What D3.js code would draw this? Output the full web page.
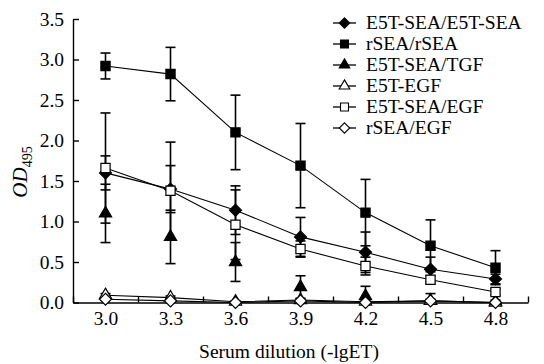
<!DOCTYPE html>
<html><head><meta charset="utf-8">
<script src="https://cdn.jsdelivr.net/npm/d3@7"></script>
<style>body{margin:0;background:#fff}svg{display:block}text{font-family:"Liberation Serif","Times New Roman",serif;fill:#000}</style>
</head><body><svg id="c" width="544" height="364"></svg>
<script>
const dilutions = [3.0, 3.3, 3.6, 3.9, 4.2, 4.5, 4.8];
const xTickLabels = ["3.0","3.3","3.6","3.9","4.2","4.5","4.8"];
const yTicks = [0, 0.5, 1.0, 1.5, 2.0, 2.5, 3.0, 3.5];
const seriesNames = ["E5T-SEA/E5T-SEA","rSEA/rSEA","E5T-SEA/TGF","E5T-EGF","E5T-SEA/EGF","rSEA/EGF"];
const e5tSeaE5tSea = [1.60, 1.40, 1.14, 0.81, 0.62, 0.41, 0.29];
const e5tSeaE5tSeaErr = [0.21, 0.29, 0.30, 0.24, 0.25, 0.15, 0.06];
const rSeaRSea = [2.92, 2.82, 2.10, 1.69, 1.11, 0.70, 0.43];
const rSeaRSeaErr = [0.16, 0.33, 0.46, 0.52, 0.41, 0.32, 0.21];
const e5tSeaTgf = [1.10, 0.81, 0.50, 0.19, 0.08, 0.02, 0.01];
const e5tSeaTgfErr = [0.36, 0.33, 0.24, 0.14, 0.12, 0.09, 0.02];
const e5tEgf = [0.09, 0.06, 0.01, 0.03, 0.01, 0.02, 0.00];
const e5tEgfErr = [0.02, 0.02, 0.01, 0.02, 0.01, 0.02, 0.01];
const e5tSeaEgf = [1.66, 1.38, 0.96, 0.66, 0.45, 0.28, 0.13];
const e5tSeaEgfErr = [0.68, 0.60, 0.43, 0.10, 0.11, 0.05, 0.04];
const rSeaEgf = [0.04, 0.02, 0.00, 0.02, 0.00, 0.02, 0.00];
const rSeaEgfErr = [0.01, 0.01, 0.01, 0.01, 0.01, 0.01, 0.01];

const squareDiamond = {draw(ctx, size) {
  const r = Math.sqrt(size / 2);
  ctx.moveTo(0, -r); ctx.lineTo(r, 0); ctx.lineTo(0, r); ctx.lineTo(-r, 0); ctx.closePath();
}};

const series = [
  {name: seriesNames[0], v: e5tSeaE5tSea, e: e5tSeaE5tSeaErr, sym: squareDiamond, size: 72, fill: "#000", line: true},
  {name: seriesNames[1], v: rSeaRSea, e: rSeaRSeaErr, sym: d3.symbolSquare, size: 85, fill: "#000", line: true},
  {name: seriesNames[2], v: e5tSeaTgf, e: e5tSeaTgfErr, sym: d3.symbolTriangle, size: 65, fill: "#000", line: false},
  {name: seriesNames[3], v: e5tEgf, e: e5tEgfErr, sym: d3.symbolTriangle, size: 65, fill: "#fff", line: true},
  {name: seriesNames[4], v: e5tSeaEgf, e: e5tSeaEgfErr, sym: d3.symbolSquare, size: 85, fill: "#fff", line: true},
  {name: seriesNames[5], v: rSeaEgf, e: rSeaEgfErr, sym: squareDiamond, size: 72, fill: "#fff", line: true}
];

const svg = d3.select("#c");
const L = 73, R = 528, T = 19, B = 302.5;
const x = d3.scaleLinear().domain([2.85, 4.95]).range([L, R]);
const y = d3.scaleLinear().domain([0, 3.5]).range([B, T]);

// axes
const yAx = svg.append("g").attr("transform", `translate(${L},0)`)
  .call(d3.axisLeft(y).tickValues(yTicks).tickFormat(d3.format(".1f")).tickSizeInner(-6).tickSizeOuter(0).tickPadding(9));
yAx.selectAll("text").style("font-size", "19.5px");
const boundaries = d3.range(8).map(i => 2.85 + i * 0.3);
svg.append("g").attr("transform", `translate(0,${B})`)
  .call(d3.axisBottom(x).tickValues(boundaries).tickFormat("").tickSizeInner(-6).tickSizeOuter(0));
const xLab = svg.append("g").attr("transform", `translate(0,${B})`)
  .call(d3.axisBottom(x).tickValues(dilutions).tickFormat((d, i) => xTickLabels[i]).tickSize(0).tickPadding(9));
xLab.select(".domain").remove();
xLab.selectAll("text").style("font-size", "19.5px");
svg.selectAll(".domain, .tick line").attr("stroke", "#000").attr("stroke-width", 1.4);

// y label
const yl = svg.append("text").attr("transform", "translate(27,172) rotate(-90)").attr("text-anchor", "middle").style("font-size", "21px");
yl.append("tspan").text("OD").style("font-style", "italic");
yl.append("tspan").text("495").attr("dy", 5).style("font-size", "14px");
svg.append("text").attr("x", 289).attr("y", 358).attr("text-anchor", "middle").style("font-size", "19.5px").text("Serum dilution (-lgET)");

const line = d3.line().x((d, i) => x(dilutions[i])).y(d => y(d));
series.forEach(s => {
  if (s.line) svg.append("path").attr("d", line(s.v)).attr("fill", "none").attr("stroke", "#000").attr("stroke-width", 1.1);
});
series.forEach(s => {
  const g = svg.append("g").attr("stroke", "#000").attr("stroke-width", 1.6);
  s.v.forEach((v, i) => {
    const cx = x(dilutions[i]), y1 = y(v + s.e[i]), y0 = y(Math.max(0, v - s.e[i]));
    g.append("line").attr("x1", cx).attr("x2", cx).attr("y1", y1).attr("y2", y0);
    g.append("line").attr("x1", cx - 5).attr("x2", cx + 5).attr("y1", y1).attr("y2", y1);
    if (v - s.e[i] > 0) g.append("line").attr("x1", cx - 5).attr("x2", cx + 5).attr("y1", y0).attr("y2", y0);
  });
});
series.forEach(s => {
  const sym = d3.symbol().type(s.sym).size(s.size);
  svg.append("g").selectAll("path").data(s.v).join("path")
    .attr("d", sym)
    .attr("transform", (d, i) => `translate(${x(dilutions[i])},${y(d)})`)
    .attr("fill", s.fill).attr("stroke", "#000").attr("stroke-width", 1.2);
});

// legend
const lg = svg.append("g");
series.forEach((s, i) => {
  const ly = 23 + i * 21;
  lg.append("line").attr("x1", 333).attr("x2", 356).attr("y1", ly).attr("y2", ly).attr("stroke", "#000").attr("stroke-width", 1.3);
  lg.append("path").attr("d", d3.symbol().type(s.sym).size(s.size * 0.75)).attr("transform", `translate(344.5,${ly})`)
    .attr("fill", s.fill).attr("stroke", "#000").attr("stroke-width", 1.1);
  lg.append("text").attr("x", 366).attr("y", ly + 6).style("font-size", "19.5px").text(s.name);
});
</script></body></html>
